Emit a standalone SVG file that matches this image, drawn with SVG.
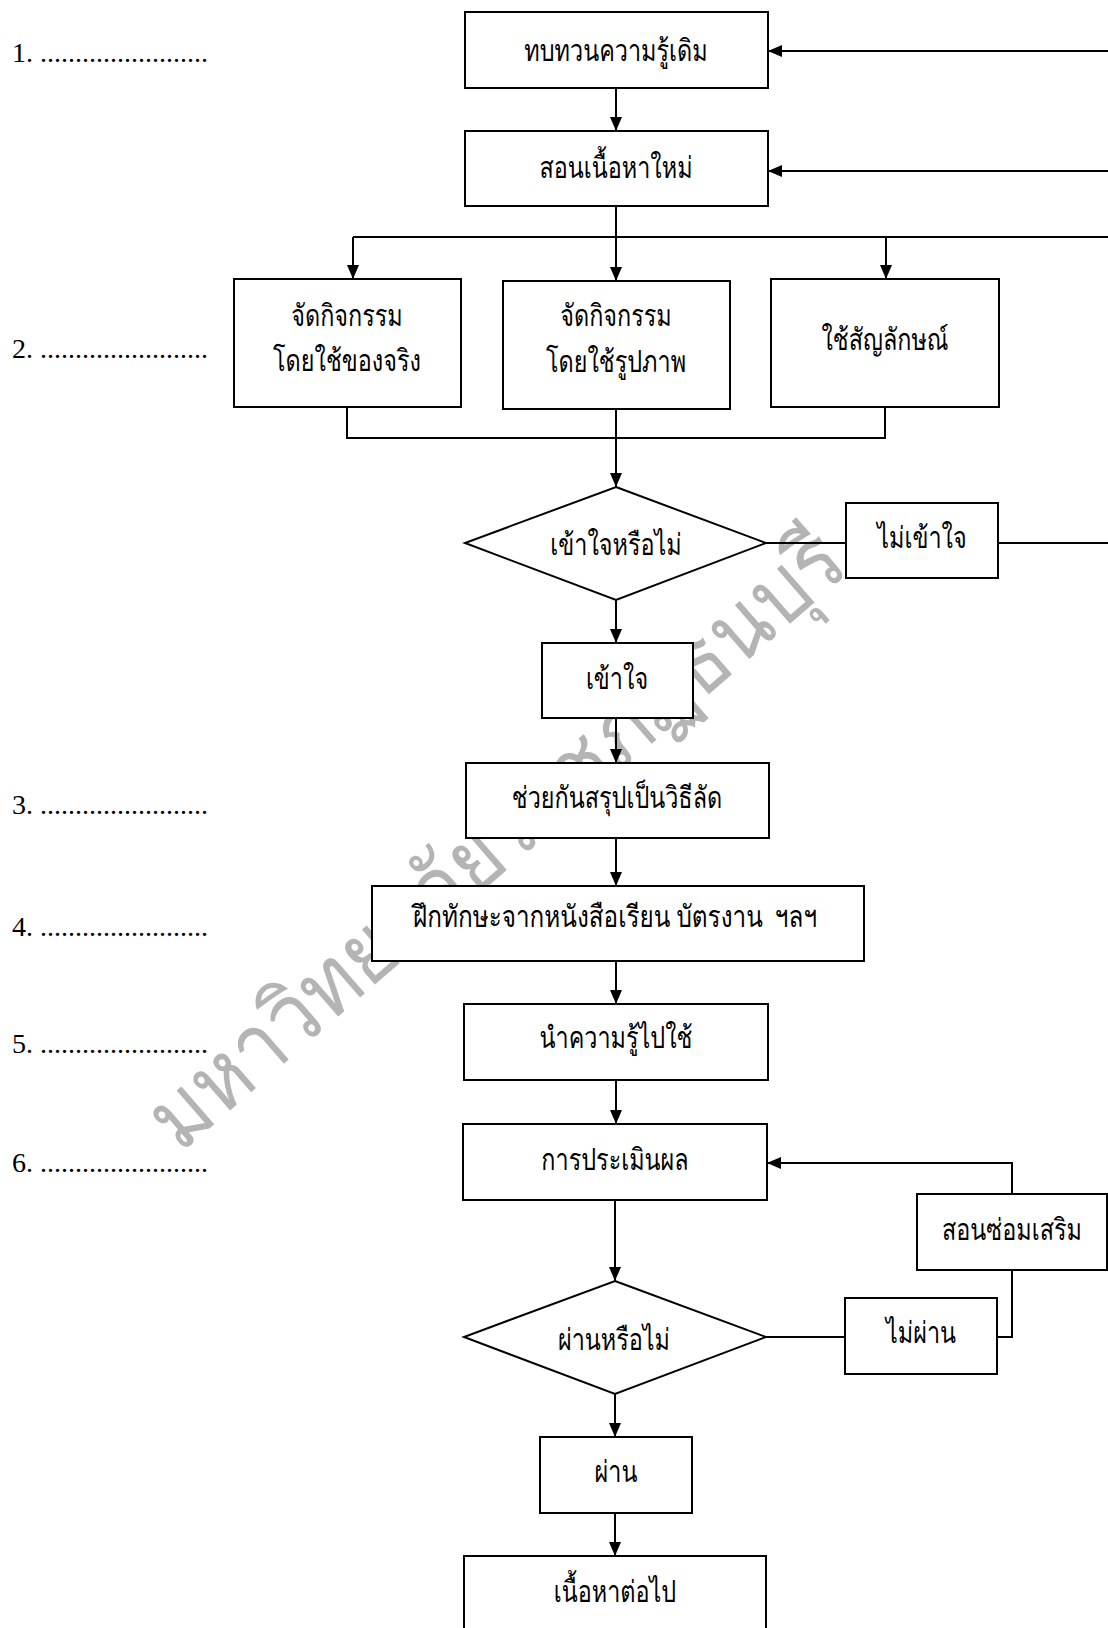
<svg xmlns="http://www.w3.org/2000/svg" width="1108" height="1628" viewBox="0 0 1108 1628">
<style>
.box{fill:#fff;stroke:#000;stroke-width:2}
.lbl{font-family:"Liberation Serif","DejaVu Serif",serif;font-size:28px;fill:#000}
.t{font-family:"Liberation Serif","Norasi","Laksaman","TlwgTypo","Garuda","Loma","Noto Serif Thai","Noto Sans Thai Looped","Noto Sans Thai","DejaVu Serif",serif;font-size:30px;font-weight:300;fill:#000;text-anchor:middle}
.c{fill:none;stroke:#000;stroke-width:2}
.wm{font-family:"Liberation Serif","Norasi","Laksaman","Garuda","Loma","Noto Serif Thai","Noto Sans Thai Looped","Noto Sans Thai","DejaVu Serif",serif;font-size:90px;fill:#b4b4b4}
</style>
<defs>
<marker id="ah" markerUnits="userSpaceOnUse" markerWidth="14" markerHeight="12" refX="14" refY="6" orient="auto">
<path d="M0,0 L14,6 L0,12 z" fill="#000"/>
</marker>
</defs>
<rect width="1108" height="1628" fill="#fff"/>
<g id="watermark">
<text class="wm" transform="translate(180,1154) rotate(-41)" textLength="890" lengthAdjust="spacingAndGlyphs">มหาวิทยาลัยราชภัฏธนบุรี</text>
</g>
<g id="labels">
<text class="lbl" x="12" y="62">1. ........................</text>
<text class="lbl" x="12" y="358">2. ........................</text>
<text class="lbl" x="12" y="814">3. ........................</text>
<text class="lbl" x="12" y="936">4. ........................</text>
<text class="lbl" x="12" y="1053">5. ........................</text>
<text class="lbl" x="12" y="1172">6. ........................</text>
</g>
<g id="n1"><rect class="box" x="465" y="12" width="303" height="76"/><text class="t" transform="translate(616,61) scale(0.78,1)">ทบทวนความรู้เดิม</text></g>
<g id="n2"><rect class="box" x="465" y="131" width="303" height="75"/><text class="t" transform="translate(616,178) scale(0.78,1)">สอนเนื้อหาใหม่</text></g>
<g id="n3"><rect class="box" x="234" y="279" width="227" height="128"/><text class="t" transform="translate(347,326) scale(0.78,1)">จัดกิจกรรม</text><text class="t" transform="translate(347,371) scale(0.78,1)">โดยใช้ของจริง</text></g>
<g id="n4"><rect class="box" x="503" y="281" width="227" height="128"/><text class="t" transform="translate(616,326) scale(0.78,1)">จัดกิจกรรม</text><text class="t" transform="translate(616,372) scale(0.78,1)">โดยใช้รูปภาพ</text></g>
<g id="n5"><rect class="box" x="771" y="279" width="228" height="128"/><text class="t" transform="translate(885,350) scale(0.78,1)">ใช้สัญลักษณ์</text></g>
<g id="d1"><polygon class="box" points="616,487 766,543 616,600 465,543"/><text class="t" transform="translate(616,555) scale(0.78,1)">เข้าใจหรือไม่</text></g>
<g id="n6"><rect class="box" x="846" y="503" width="152" height="75"/><text class="t" transform="translate(922,548) scale(0.78,1)">ไม่เข้าใจ</text></g>
<g id="n7"><rect class="box" x="542" y="643" width="151" height="75"/><text class="t" transform="translate(617,689) scale(0.78,1)">เข้าใจ</text></g>
<g id="n8"><rect class="box" x="466" y="763" width="303" height="75"/><text class="t" transform="translate(617,808) scale(0.78,1)">ช่วยกันสรุปเป็นวิธีลัด</text></g>
<g id="n9"><rect class="box" x="372" y="886" width="492" height="75"/><text class="t" transform="translate(615,927) scale(0.78,1)" xml:space="preserve" textLength="518" lengthAdjust="spacingAndGlyphs">ฝึกทักษะจากหนังสือเรียน บัตรงาน  ฯลฯ</text></g>
<g id="n10"><rect class="box" x="464" y="1004" width="304" height="76"/><text class="t" transform="translate(616,1048) scale(0.78,1)">นำความรู้ไปใช้</text></g>
<g id="n11"><rect class="box" x="463" y="1124" width="304" height="76"/><text class="t" transform="translate(615,1170) scale(0.78,1)">การประเมินผล</text></g>
<g id="n12"><rect class="box" x="917" y="1194" width="190" height="76"/><text class="t" transform="translate(1012,1240) scale(0.78,1)">สอนซ่อมเสริม</text></g>
<g id="d2"><polygon class="box" points="615,1281 766,1337 615,1394 464,1337"/><text class="t" transform="translate(614,1350) scale(0.78,1)">ผ่านหรือไม่</text></g>
<g id="n13"><rect class="box" x="845" y="1298" width="152" height="76"/><text class="t" transform="translate(921,1343) scale(0.78,1)">ไม่ผ่าน</text></g>
<g id="n14"><rect class="box" x="540" y="1437" width="152" height="76"/><text class="t" transform="translate(616,1482) scale(0.78,1)">ผ่าน</text></g>
<g id="n15"><rect class="box" x="464" y="1556" width="302" height="90"/><text class="t" transform="translate(615,1602) scale(0.78,1)">เนื้อหาต่อไป</text></g>
<g id="connectors">
<path class="c" d="M616,88 V131" marker-end="url(#ah)"/>
<path class="c" d="M1108,51 H768" marker-end="url(#ah)"/>
<path class="c" d="M1108,171 H768" marker-end="url(#ah)"/>
<path class="c" d="M616,206 V281" marker-end="url(#ah)"/>
<path class="c" d="M353,237 H1108"/>
<path class="c" d="M353,237 V279" marker-end="url(#ah)"/>
<path class="c" d="M886,237 V279" marker-end="url(#ah)"/>
<path class="c" d="M347,407 V438 H885 V407"/>
<path class="c" d="M616,409 V487" marker-end="url(#ah)"/>
<path class="c" d="M766,543 H846"/>
<path class="c" d="M998,543 H1108"/>
<path class="c" d="M616,600 V643" marker-end="url(#ah)"/>
<path class="c" d="M616,718 V763" marker-end="url(#ah)"/>
<path class="c" d="M616,838 V886" marker-end="url(#ah)"/>
<path class="c" d="M616,961 V1004" marker-end="url(#ah)"/>
<path class="c" d="M616,1080 V1124" marker-end="url(#ah)"/>
<path class="c" d="M615,1200 V1281" marker-end="url(#ah)"/>
<path class="c" d="M766,1337 H845"/>
<path class="c" d="M997,1337 H1012 V1270"/>
<path class="c" d="M1012,1194 V1163 H767" marker-end="url(#ah)"/>
<path class="c" d="M615,1394 V1437" marker-end="url(#ah)"/>
<path class="c" d="M615,1513 V1556" marker-end="url(#ah)"/>
</g>
</svg>
